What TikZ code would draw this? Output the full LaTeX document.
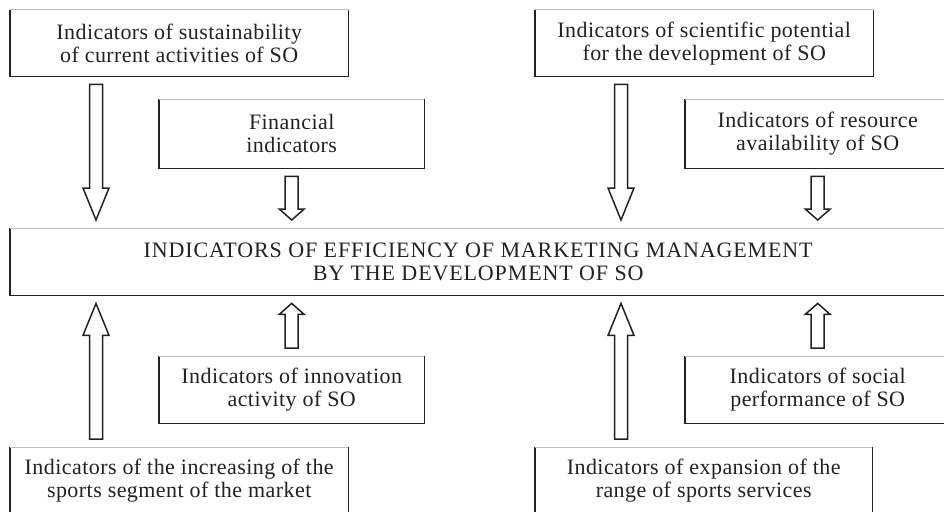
\documentclass[tikz,border=0pt]{standalone}
\usepackage{fontspec}
\setmainfont[LetterSpace=2]{Liberation Serif}
\usetikzlibrary{calc}

\definecolor{ink}{HTML}{222222}
\definecolor{rulegray}{HTML}{BDBDBD}

\tikzset{
  % hollow block arrow from start to target, 8pt clear of both nodes
  blockarrow/.style n args={3}{draw=ink, line width=1.5pt, fill=white, line join=miter,
    to path={let \p1=(\tikztostart), \p2=(\tikztotarget), \n1={sign(\y2-\y1)} in
      ({\x1-#1},{\y1+\n1*8pt}) -- ({\x1-#1},{\y2-\n1*(8pt+#3)}) -- ({\x1-#2},{\y2-\n1*(8pt+#3)})
      -- ({\x1},{\y2-\n1*8pt})
      -- ({\x1+#2},{\y2-\n1*(8pt+#3)}) -- ({\x1+#1},{\y2-\n1*(8pt+#3)}) -- ({\x1+#1},{\y1+\n1*8pt}) -- cycle}},
  bigarrow/.style={blockarrow={6.5pt}{13pt}{32pt}},
  smallarrow/.style={blockarrow={6.5pt}{12.5pt}{11pt}}
}

\begin{document}
\begin{tikzpicture}[x=1pt, y=1pt,
  box/.style={anchor=north west, align=center, inner sep=0pt, text=ink,
    font=\fontsize{22}{23}\selectfont},
  wide/.style={box, minimum width=338, minimum height=66},
  narrow/.style={box, minimum width=265, minimum height=67},
  edge/.style={draw=ink, line width=1.6pt},
  topedge/.style={draw=rulegray, line width=1pt}
]
\clip (0,0) rectangle (944,-511);
\fill[white] (0,0) rectangle (944,-511);

% sources above
\node[wide] (sust) at (10,-10) {Indicators of sustainability\\of current activities of SO};
\node[wide] (sci) at (535,-10) {Indicators of scientific potential\\for the development of SO};
\node[narrow, minimum height=69] (fin) at (159,-99) {Financial\\indicators};
\node[narrow, minimum height=69] (res) at (685,-99) {Indicators of resource\\availability of SO};

% target
\node[box, minimum width=936, minimum height=67, font=\fontsize{22}{23}\selectfont\addfontfeature{LetterSpace=4}]
  (main) at (10,-228) {INDICATORS OF EFFICIENCY OF MARKETING MANAGEMENT\\BY THE DEVELOPMENT OF SO};

% sources below
\node[narrow] (inn) at (159,-356) {Indicators of innovation\\activity of SO};
\node[narrow] (soc) at (685,-356) {Indicators of social\\performance of SO};
\node[wide] (incr) at (10,-447) {Indicators of the increasing of the\\sports segment of the market};
\node[wide, minimum width=337] (expn) at (535,-447) {Indicators of expansion of the\\range of sports services};

% frames: dark sides and bottom, light top
\foreach \b in {sust,sci,fin,res,main,inn,soc,incr,expn}{
  \draw[edge] (\b.north west) -- (\b.south west) -- (\b.south east) -- (\b.north east);
  \draw[topedge] (\b.north west) -- (\b.north east);
}

\coordinate (lcol) at (96,0);
\coordinate (rcol) at (621,0);

\draw[bigarrow] (sust.south -| lcol) to (main.north -| lcol);
\draw[smallarrow] (fin.south) to (main.north -| fin.south);
\draw[bigarrow] (sci.south -| rcol) to (main.north -| rcol);
\draw[smallarrow] (res.south) to (main.north -| res.south);

\draw[bigarrow] (incr.north -| lcol) to (main.south -| lcol);
\draw[smallarrow] (inn.north) to (main.south -| inn.north);
\draw[bigarrow] (expn.north -| rcol) to (main.south -| rcol);
\draw[smallarrow] (soc.north) to (main.south -| soc.north);

\end{tikzpicture}
\end{document}
